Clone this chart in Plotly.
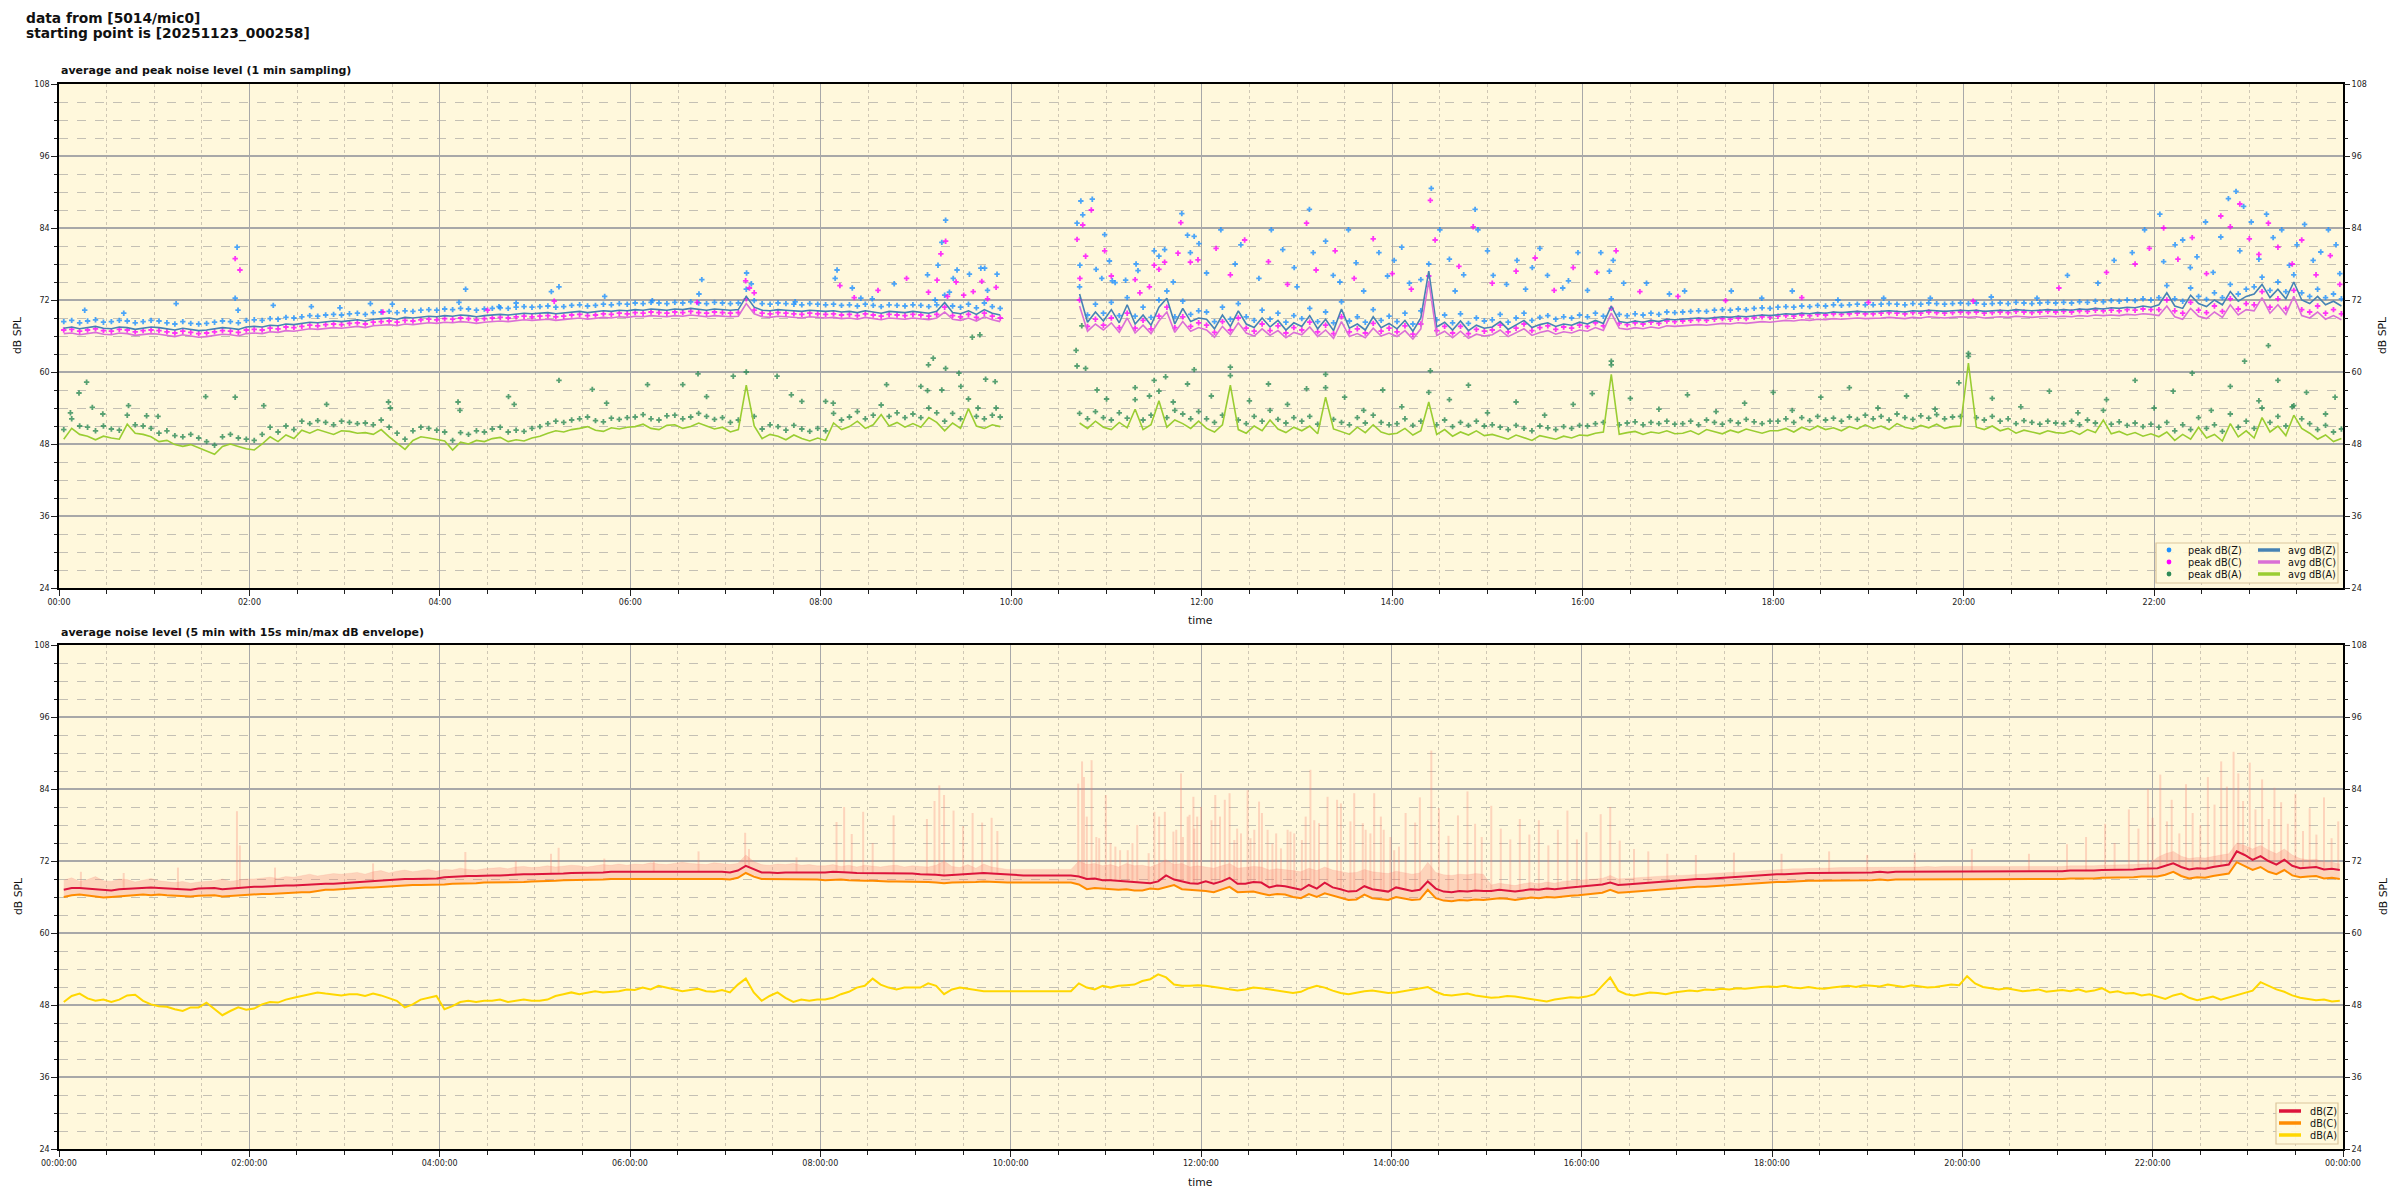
import pandas as pd
import numpy as np
import plotly.graph_objects as go

# ---------------- DATA ----------------
DAY = pd.Timestamp("2025-11-23 00:00:00")
SLOTS = pd.date_range("2025-11-23 00:03:00", periods=288, freq="5min")
N = None

# top chart: 1-min averages (read at 5 min steps), 12 values per hour
AVG_Z_H = [
    [67.3, 67.5, 67.2, 67.4, 67.6, 67.3, 67.2, 67.5, 67.4, 67.1, 67.3, 67.5],
    [67.4, 67.2, 67.0, 67.3, 67.1, 66.9, 67.0, 67.2, 67.4, 67.3, 67.1, 67.5],
    [67.6, 67.5, 67.8, 67.7, 68.0, 67.9, 68.1, 68.3, 68.2, 68.4, 68.5, 68.4],
    [68.6, 68.7, 68.5, 68.8, 68.9, 69.0, 68.8, 69.1, 69.0, 69.2, 69.3, 69.2],
    [69.4, 69.3, 69.5, 69.4, 69.2, 69.4, 69.5, 69.6, 69.5, 69.7, 69.8, 69.7],
    [69.8, 69.9, 69.7, 69.8, 70.0, 70.1, 69.9, 70.0, 70.2, 70.1, 70.3, 70.2],
    [70.4, 70.3, 70.5, 70.4, 70.3, 70.5, 70.4, 70.6, 70.4, 70.3, 70.5, 70.4],
    [70.3, 70.4, 72.6, 70.8, 70.3, 70.2, 70.4, 70.3, 70.2, 70.1, 70.3, 70.2],
    [70.1, 70.2, 70.0, 70.1, 69.9, 70.2, 70.0, 69.8, 70.1, 70.0, 69.9, 70.1],
    [70.0, 69.8, 70.1, 71.6, 69.9, 69.7, 70.2, 69.6, 70.4, 69.8, 69.5, N],
    [N, N, N, N, N, N, N, N, 73.0, 68.3, 70.0, 68.5],
    [70.4, 68.2, 71.2, 68.0, 69.5, 67.8, 70.8, 72.3, 68.0, 70.6, 68.4, 69.0],
    [68.8, 67.2, 69.5, 67.6, 70.2, 68.0, 67.4, 69.0, 67.5, 68.6, 67.0, 68.2],
    [67.6, 69.4, 67.2, 68.8, 66.9, 70.5, 67.3, 68.0, 67.0, 69.2, 67.4, 68.1],
    [67.2, 68.6, 66.8, 69.0, 76.8, 67.5, 68.3, 67.0, 68.5, 66.9, 67.8, 67.3],
    [67.5, 68.4, 67.1, 67.8, 68.6, 67.4, 67.9, 68.2, 67.6, 68.0, 67.8, 68.3],
    [68.0, 68.6, 68.1, 71.0, 68.4, 68.2, 68.5, 68.3, 68.6, 68.4, 68.8, 68.7],
    [68.8, 68.9, 69.0, 68.9, 69.1, 69.2, 69.1, 69.3, 69.2, 69.4, 69.5, 69.4],
    [69.6, 69.7, 69.6, 69.8, 69.7, 69.9, 69.8, 70.0, 69.9, 70.0, 70.1, 70.0],
    [70.0, 70.1, 70.2, 70.1, 70.0, 70.2, 70.1, 70.3, 70.2, 70.1, 70.2, 70.3],
    [70.2, 70.3, 70.1, 70.2, 70.3, 70.2, 70.4, 70.3, 70.2, 70.3, 70.4, 70.3],
    [70.4, 70.3, 70.5, 70.4, 70.6, 70.5, 70.7, 70.6, 70.8, 70.7, 71.0, 70.8],
    [71.2, 73.2, 71.0, 70.6, 72.8, 71.4, 70.9, 72.0, 71.2, 73.4, 71.8, 72.6],
    [73.0, 74.6, 72.4, 73.8, 72.2, 75.0, 72.0, 71.4, 72.6, 71.2, 71.8, 71.0],
]
AVG_C_H = [
    [66.4, 66.5, 66.2, 66.4, 66.6, 66.3, 66.2, 66.5, 66.4, 66.1, 66.3, 66.4],
    [66.3, 66.1, 65.9, 66.2, 66.0, 65.8, 65.9, 66.1, 66.3, 66.2, 66.0, 66.4],
    [66.5, 66.4, 66.7, 66.6, 66.9, 66.8, 67.0, 67.2, 67.1, 67.3, 67.4, 67.3],
    [67.5, 67.6, 67.4, 67.7, 67.8, 67.9, 67.7, 68.0, 67.9, 68.1, 68.2, 68.1],
    [68.3, 68.2, 68.4, 68.3, 68.1, 68.3, 68.4, 68.5, 68.4, 68.6, 68.7, 68.6],
    [68.7, 68.8, 68.6, 68.7, 68.9, 69.0, 68.8, 68.9, 69.1, 69.0, 69.2, 69.1],
    [69.3, 69.2, 69.4, 69.3, 69.2, 69.4, 69.3, 69.5, 69.3, 69.2, 69.4, 69.3],
    [69.2, 69.3, 71.4, 69.7, 69.2, 69.1, 69.3, 69.2, 69.1, 69.0, 69.2, 69.1],
    [69.0, 69.1, 68.9, 69.0, 68.8, 69.1, 68.9, 68.7, 69.0, 68.9, 68.8, 69.0],
    [68.9, 68.7, 69.0, 70.0, 68.8, 68.6, 69.0, 68.5, 69.2, 68.7, 68.4, N],
    [N, N, N, N, N, N, N, N, 71.0, 66.8, 68.0, 67.0],
    [68.2, 66.6, 69.0, 66.5, 67.8, 66.4, 68.5, 70.0, 66.6, 68.4, 66.8, 67.4],
    [67.0, 65.8, 67.6, 66.2, 68.2, 66.5, 66.0, 67.2, 66.1, 66.9, 65.7, 66.6],
    [66.2, 67.5, 65.9, 67.0, 65.6, 68.4, 65.9, 66.4, 65.7, 67.3, 66.0, 66.5],
    [65.9, 66.9, 65.5, 67.2, 75.2, 66.1, 66.8, 65.7, 66.8, 65.6, 66.3, 66.0],
    [66.2, 67.0, 65.9, 66.5, 67.2, 66.1, 66.6, 66.9, 66.3, 66.7, 66.5, 67.0],
    [66.8, 67.4, 66.9, 69.8, 67.3, 67.1, 67.4, 67.2, 67.5, 67.3, 67.7, 67.6],
    [67.7, 67.8, 67.9, 67.8, 68.0, 68.1, 68.0, 68.2, 68.1, 68.3, 68.4, 68.3],
    [68.5, 68.6, 68.5, 68.7, 68.6, 68.8, 68.7, 68.9, 68.8, 68.9, 69.0, 68.9],
    [68.9, 69.0, 69.1, 69.0, 68.9, 69.1, 69.0, 69.2, 69.1, 69.0, 69.1, 69.2],
    [69.1, 69.2, 69.0, 69.1, 69.2, 69.1, 69.3, 69.2, 69.1, 69.2, 69.3, 69.2],
    [69.3, 69.2, 69.4, 69.3, 69.5, 69.4, 69.5, 69.4, 69.6, 69.5, 69.7, 69.6],
    [69.4, 71.0, 69.2, 68.8, 70.6, 69.3, 68.9, 70.0, 69.1, 71.2, 69.5, 70.4],
    [70.2, 72.4, 69.8, 71.2, 69.6, 72.6, 69.4, 69.0, 70.0, 68.8, 69.4, 68.7],
]
AVG_A_H = [
    [48.8, 50.6, 49.6, 49.3, 48.7, 49.3, 49.0, 48.8, 51.3, 49.8, 49.6, 49.2],
    [48.4, 48.6, 47.9, 47.6, 47.9, 47.4, 46.9, 46.3, 47.6, 48.0, 47.6, 47.2],
    [47.0, 48.0, 49.2, 48.4, 49.5, 48.9, 50.3, 49.8, 50.4, 50.0, 49.6, 50.2],
    [50.1, 49.8, 49.9, 49.6, 50.4, 49.2, 48.2, 47.1, 48.6, 49.2, 49.0, 48.7],
    [48.5, 47.0, 48.3, 48.0, 48.6, 48.4, 48.9, 49.1, 48.4, 48.7, 48.5, 49.0],
    [49.3, 49.8, 50.2, 50.0, 50.4, 50.6, 50.9, 50.3, 50.1, 50.7, 50.5, 50.8],
    [50.9, 51.3, 50.6, 50.4, 51.1, 51.2, 50.6, 50.9, 51.5, 51.0, 50.5, 50.8],
    [50.0, 50.4, 57.8, 51.0, 48.9, 49.6, 49.3, 48.7, 49.5, 48.9, 48.5, 49.0],
    [48.6, 51.5, 50.4, 50.9, 51.8, 50.6, 51.2, 52.9, 51.0, 51.6, 50.8, 51.4],
    [50.8, 52.4, 51.6, 50.2, 51.5, 50.6, 53.9, 51.0, 50.6, 51.2, 50.9, N],
    [N, N, N, N, N, N, N, N, 51.5, 50.6, 51.8, 50.8],
    [50.4, 51.6, 50.7, 53.8, 50.4, 51.2, 55.2, 50.8, 52.0, 51.4, 50.6, 51.8],
    [50.6, 50.0, 51.2, 57.8, 50.4, 49.8, 51.0, 50.2, 52.0, 50.5, 49.9, 50.8],
    [50.2, 51.0, 49.7, 55.8, 50.5, 50.0, 49.6, 50.8, 49.9, 51.2, 50.0, 49.6],
    [49.8, 50.6, 49.5, 50.2, 55.0, 49.6, 50.4, 49.3, 50.0, 49.5, 50.2, 49.4],
    [49.6, 49.2, 48.8, 49.5, 49.0, 48.6, 49.4, 49.1, 48.8, 49.3, 49.0, 49.5],
    [49.4, 49.8, 50.0, 59.6, 49.6, 49.9, 50.1, 49.6, 50.0, 49.8, 50.2, 49.7],
    [49.8, 50.2, 49.6, 50.4, 50.0, 49.7, 50.3, 49.9, 50.5, 50.1, 49.8, 50.2],
    [50.2, 50.6, 50.0, 50.8, 50.3, 51.0, 50.4, 50.7, 50.2, 50.9, 50.5, 51.2],
    [50.6, 51.0, 50.4, 51.4, 50.8, 50.5, 51.1, 50.7, 51.3, 50.6, 50.9, 51.0],
    [61.5, 50.8, 50.4, 51.0, 50.2, 50.6, 49.8, 50.3, 50.0, 49.7, 50.2, 49.9],
    [49.8, 50.2, 49.6, 50.4, 49.9, 52.0, 49.7, 50.1, 49.5, 49.9, 49.3, 49.7],
    [49.2, 50.0, 48.6, 49.6, 48.8, 50.8, 49.0, 49.6, 48.5, 51.4, 49.2, 50.2],
    [49.0, 52.4, 50.0, 51.0, 49.4, 52.8, 50.6, 49.8, 48.8, 49.5, 48.4, 48.9],
]
PEAK_Z_H = [
    [68.4, 68.6, 68.2, 68.5, 68.7, 68.3, 68.4, 68.6, 68.5, 68.2, 68.4, 68.6],
    [68.5, 68.2, 68.0, 68.4, 68.1, 68.0, 68.1, 68.3, 68.5, 68.4, 68.2, 68.6],
    [68.7, 68.6, 68.9, 68.8, 69.1, 69.0, 69.2, 69.4, 69.3, 69.5, 69.6, 69.5],
    [69.7, 69.8, 69.6, 69.9, 70.0, 70.1, 69.9, 70.2, 70.1, 70.3, 70.4, 70.3],
    [70.5, 70.4, 70.6, 70.5, 70.3, 70.5, 70.6, 70.7, 70.6, 70.8, 70.9, 70.8],
    [70.9, 71.0, 70.8, 70.9, 71.1, 71.2, 71.0, 71.1, 71.3, 71.2, 71.4, 71.3],
    [71.5, 71.4, 71.6, 71.5, 71.4, 71.6, 71.5, 71.7, 71.5, 71.4, 71.6, 71.5],
    [71.4, 71.5, 73.8, 71.9, 71.4, 71.3, 71.5, 71.4, 71.3, 71.2, 71.4, 71.3],
    [71.2, 71.3, 71.1, 71.2, 71.0, 71.3, 71.1, 70.9, 71.2, 71.1, 71.0, 71.2],
    [71.1, 70.9, 71.2, 72.8, 71.0, 70.8, 71.3, 70.7, 71.5, 70.9, 70.6, N],
    [N, N, N, N, N, N, N, N, 74.2, 69.5, 71.3, 69.8],
    [71.6, 69.4, 72.4, 69.3, 70.8, 69.1, 72.0, 73.5, 69.2, 71.8, 69.6, 70.2],
    [70.0, 68.4, 70.8, 68.8, 71.4, 69.2, 68.6, 70.3, 68.8, 69.8, 68.3, 69.4],
    [68.9, 70.6, 68.4, 70.0, 68.2, 71.7, 68.5, 69.2, 68.3, 70.4, 68.6, 69.3],
    [68.4, 69.8, 68.0, 70.2, 78.0, 68.7, 69.5, 68.2, 69.7, 68.1, 69.0, 68.5],
    [68.7, 69.6, 68.3, 69.0, 69.8, 68.6, 69.1, 69.4, 68.8, 69.2, 69.0, 69.5],
    [69.2, 69.8, 69.3, 72.2, 69.6, 69.4, 69.7, 69.5, 69.8, 69.6, 70.0, 69.9],
    [70.0, 70.1, 70.2, 70.1, 70.3, 70.4, 70.3, 70.5, 70.4, 70.6, 70.7, 70.6],
    [70.8, 70.9, 70.8, 71.0, 70.9, 71.1, 71.0, 71.2, 71.1, 71.2, 71.3, 71.2],
    [71.2, 71.3, 71.4, 71.3, 71.2, 71.4, 71.3, 71.5, 71.4, 71.3, 71.4, 71.5],
    [71.4, 71.5, 71.3, 71.4, 71.5, 71.4, 71.6, 71.5, 71.4, 71.5, 71.6, 71.5],
    [71.6, 71.5, 71.7, 71.6, 71.8, 71.7, 71.9, 71.8, 72.0, 71.9, 72.2, 72.0],
    [72.4, 74.4, 72.2, 71.8, 74.0, 72.6, 72.1, 73.2, 72.4, 74.6, 73.0, 73.8],
    [74.2, 75.8, 73.6, 75.0, 73.4, 76.2, 73.2, 72.6, 73.8, 72.4, 73.0, 72.2],
]
PEAK_C_H = [
    [67.0, 67.1, 66.8, 67.0, 67.2, 66.9, 66.8, 67.1, 67.0, 66.7, 66.9, 67.0],
    [66.9, 66.7, 66.5, 66.8, 66.6, 66.4, 66.5, 66.7, 66.9, 66.8, 66.6, 67.0],
    [67.1, 67.0, 67.3, 67.2, 67.5, 67.4, 67.6, 67.8, 67.7, 67.9, 68.0, 67.9],
    [68.1, 68.2, 68.0, 68.3, 68.4, 68.5, 68.3, 68.6, 68.5, 68.7, 68.8, 68.7],
    [68.9, 68.8, 69.0, 68.9, 68.7, 68.9, 69.0, 69.1, 69.0, 69.2, 69.3, 69.2],
    [69.3, 69.4, 69.2, 69.3, 69.5, 69.6, 69.4, 69.5, 69.7, 69.6, 69.8, 69.7],
    [69.9, 69.8, 70.0, 69.9, 69.8, 70.0, 69.9, 70.1, 69.9, 69.8, 70.0, 69.9],
    [69.8, 69.9, 72.2, 70.3, 69.8, 69.7, 69.9, 69.8, 69.7, 69.6, 69.8, 69.7],
    [69.6, 69.7, 69.5, 69.6, 69.4, 69.7, 69.5, 69.3, 69.6, 69.5, 69.4, 69.6],
    [69.5, 69.3, 69.6, 70.8, 69.4, 69.2, 69.6, 69.1, 69.8, 69.3, 69.0, N],
    [N, N, N, N, N, N, N, N, 72.0, 67.6, 68.8, 67.8],
    [69.0, 67.4, 69.8, 67.3, 68.6, 67.2, 69.3, 70.8, 67.4, 69.2, 67.6, 68.2],
    [67.8, 66.6, 68.4, 67.0, 69.0, 67.3, 66.8, 68.0, 66.9, 67.7, 66.5, 67.4],
    [67.0, 68.3, 66.7, 67.8, 66.4, 69.2, 66.7, 67.2, 66.5, 68.1, 66.8, 67.3],
    [66.7, 67.7, 66.3, 68.0, 76.0, 66.9, 67.6, 66.5, 67.6, 66.4, 67.1, 66.8],
    [67.0, 67.8, 66.7, 67.3, 68.0, 66.9, 67.4, 67.7, 67.1, 67.5, 67.3, 67.8],
    [67.6, 68.2, 67.7, 70.6, 68.1, 67.9, 68.2, 68.0, 68.3, 68.1, 68.5, 68.4],
    [68.5, 68.6, 68.7, 68.6, 68.8, 68.9, 68.8, 69.0, 68.9, 69.1, 69.2, 69.1],
    [69.3, 69.4, 69.3, 69.5, 69.4, 69.6, 69.5, 69.7, 69.6, 69.7, 69.8, 69.7],
    [69.7, 69.8, 69.9, 69.8, 69.7, 69.9, 69.8, 70.0, 69.9, 69.8, 69.9, 70.0],
    [69.9, 70.0, 69.8, 69.9, 70.0, 69.9, 70.1, 70.0, 69.9, 70.0, 70.1, 70.0],
    [70.1, 70.0, 70.2, 70.1, 70.3, 70.2, 70.3, 70.2, 70.4, 70.3, 70.5, 70.4],
    [70.4, 72.0, 70.2, 69.8, 71.6, 70.3, 69.9, 71.0, 70.1, 72.2, 70.5, 71.4],
    [71.2, 73.4, 70.8, 72.2, 70.6, 73.6, 70.4, 70.0, 71.0, 69.8, 70.4, 69.7],
]
PEAK_A_H = [
    [50.4, 52.2, 51.0, 50.8, 50.2, 51.0, 50.5, 50.3, 52.8, 51.2, 51.0, 50.6],
    [49.8, 50.2, 49.4, 49.2, 49.6, 49.0, 48.4, 47.8, 49.2, 49.6, 49.0, 48.8],
    [48.6, 49.6, 50.8, 50.0, 51.0, 50.4, 51.8, 51.4, 51.9, 51.6, 51.2, 51.8],
    [51.6, 51.4, 51.5, 51.2, 52.0, 50.8, 49.8, 48.8, 50.2, 50.8, 50.6, 50.3],
    [50.0, 48.6, 49.9, 49.6, 50.2, 50.0, 50.5, 50.8, 50.0, 50.3, 50.1, 50.6],
    [50.9, 51.4, 51.8, 51.6, 52.0, 52.2, 52.5, 51.9, 51.7, 52.3, 52.1, 52.4],
    [52.5, 52.9, 52.2, 52.0, 52.7, 52.8, 52.2, 52.5, 53.1, 52.6, 52.1, 52.4],
    [51.6, 52.0, 60.0, 52.6, 50.5, 51.2, 50.9, 50.3, 51.1, 50.5, 50.1, 50.6],
    [50.2, 53.1, 52.0, 52.5, 53.4, 52.2, 52.8, 54.5, 52.6, 53.2, 52.4, 53.0],
    [52.4, 54.0, 53.2, 51.8, 53.1, 52.2, 55.5, 52.6, 52.2, 52.8, 52.5, N],
    [N, N, N, N, N, N, N, N, 53.1, 52.2, 53.4, 52.4],
    [52.0, 53.2, 52.3, 55.4, 52.0, 52.8, 56.8, 52.4, 53.6, 53.0, 52.2, 53.4],
    [52.2, 51.6, 52.8, 59.4, 52.0, 51.4, 52.6, 51.8, 53.6, 52.1, 51.5, 52.4],
    [51.8, 52.6, 51.3, 57.4, 52.1, 51.6, 51.2, 52.4, 51.5, 52.8, 51.6, 51.2],
    [51.4, 52.2, 51.1, 51.8, 56.6, 51.2, 52.0, 50.9, 51.6, 51.1, 51.8, 51.0],
    [51.2, 50.8, 50.4, 51.1, 50.6, 50.2, 51.0, 50.7, 50.4, 50.9, 50.6, 51.1],
    [51.0, 51.4, 51.6, 61.2, 51.2, 51.5, 51.7, 51.2, 51.6, 51.4, 51.8, 51.3],
    [51.4, 51.8, 51.2, 52.0, 51.6, 51.3, 51.9, 51.5, 52.1, 51.7, 51.4, 51.8],
    [51.8, 52.2, 51.6, 52.4, 51.9, 52.6, 52.0, 52.3, 51.8, 52.5, 52.1, 52.8],
    [52.2, 52.6, 52.0, 53.0, 52.4, 52.1, 52.7, 52.3, 52.9, 52.2, 52.5, 52.6],
    [63.1, 52.4, 52.0, 52.6, 51.8, 52.2, 51.4, 51.9, 51.6, 51.3, 51.8, 51.5],
    [51.4, 51.8, 51.2, 52.0, 51.5, 53.6, 51.3, 51.7, 51.1, 51.5, 50.9, 51.3],
    [50.8, 51.6, 50.2, 51.2, 50.4, 52.4, 50.6, 51.2, 50.1, 53.0, 50.8, 51.8],
    [50.6, 54.0, 51.6, 52.6, 51.0, 54.4, 52.2, 51.4, 50.4, 51.1, 50.0, 50.5],
]

# isolated peak readings (hour of day, dB)
PEAK_Z_OUT = [
    (0.27, 70.3), (0.68, 69.8), (1.23, 71.4), (1.85, 72.3), (1.87, 80.8), (1.88, 70.3), (2.25, 71.1),
    (2.65, 70.9), (2.95, 70.7), (3.27, 71.4), (3.5, 71.3), (4.2, 71.6), (4.27, 73.8), (4.62, 70.9),
    (4.8, 71.5), (5.17, 73.4), (5.25, 74.2), (5.73, 72.6), (6.23, 71.9), (6.72, 73.0), (6.75, 75.4),
    (7.22, 76.5), (7.27, 74.7), (7.73, 71.7), (8.15, 75.6), (8.17, 77.0), (8.33, 74.0), (8.42, 72.3),
    (8.54, 72.2), (8.77, 74.7), (9.12, 76.2), (9.2, 72.0), (9.23, 77.8), (9.27, 81.6), (9.31, 85.3),
    (9.35, 73.3), (9.39, 75.6), (9.43, 77.0), (9.56, 76.3), (9.68, 77.3), (9.72, 77.3), (9.75, 73.6),
    (9.85, 76.3), (10.69, 84.8), (10.72, 77.8), (10.73, 88.5), (10.75, 86.2), (10.85, 88.8),
    (10.89, 77.1), (10.95, 75.6), (10.98, 82.9), (11.03, 78.5), (11.06, 75.2), (11.09, 74.9),
    (11.2, 75.3), (11.31, 78.0), (11.33, 76.9), (11.5, 80.2), (11.55, 79.3), (11.61, 80.4),
    (11.7, 75.0), (11.79, 86.4), (11.85, 82.8), (11.88, 79.9), (11.92, 82.6), (11.97, 81.4),
    (12.05, 76.5), (12.2, 83.7), (12.35, 78.0), (12.41, 81.2), (12.6, 75.6), (12.73, 83.7),
    (12.85, 80.4), (12.97, 77.4), (13.0, 74.2), (13.13, 87.1), (13.17, 79.9), (13.3, 81.8),
    (13.38, 76.1), (13.45, 75.0), (13.54, 83.7), (13.62, 78.2), (13.7, 73.5), (13.86, 79.9),
    (13.95, 76.0), (14.02, 78.6), (14.1, 80.8), (14.18, 74.8), (14.3, 75.4), (14.41, 90.6),
    (14.5, 83.7), (14.6, 78.8), (14.66, 73.5), (14.75, 76.2), (14.87, 87.1), (14.9, 83.7),
    (15.0, 80.2), (15.06, 76.1), (15.2, 74.6), (15.31, 78.6), (15.4, 73.8), (15.47, 77.4),
    (15.55, 80.6), (15.63, 76.1), (15.79, 74.0), (15.85, 75.2), (15.95, 79.9), (16.05, 73.6),
    (16.19, 79.9), (16.28, 76.8), (16.32, 78.6), (16.43, 74.8), (16.67, 74.8), (16.91, 73.0),
    (17.07, 73.5), (17.56, 73.5), (17.88, 72.3), (18.2, 73.5), (18.68, 72.0), (19.16, 72.3),
    (19.65, 72.3), (20.29, 72.5), (20.77, 72.3), (21.09, 76.1), (21.41, 74.8), (21.58, 78.6),
    (21.77, 79.9), (21.9, 83.7), (22.06, 86.3), (22.1, 78.4), (22.22, 81.2), (22.3, 82.0),
    (22.38, 77.4), (22.45, 79.2), (22.54, 85.0), (22.62, 76.6), (22.7, 82.5), (22.78, 88.9),
    (22.86, 90.1), (22.9, 80.2), (22.94, 87.6), (23.02, 85.0), (23.1, 78.8), (23.18, 86.3),
    (23.25, 82.4), (23.34, 83.7), (23.42, 77.8), (23.5, 81.2), (23.58, 84.6), (23.67, 78.6),
    (23.75, 80.0), (23.83, 83.7), (23.91, 81.2), (23.95, 76.4),
]
PEAK_C_OUT = [
    (1.85, 78.9), (1.9, 77.0), (3.4, 70.0), (4.5, 70.3), (5.2, 71.8), (6.7, 71.6), (7.21, 75.2),
    (7.25, 74.0), (7.3, 73.2), (8.2, 74.4), (8.35, 72.4), (8.6, 73.6), (8.9, 75.6), (9.13, 73.3),
    (9.22, 75.3), (9.26, 79.7), (9.31, 81.8), (9.33, 72.6), (9.42, 75.0), (9.5, 72.8), (9.6, 73.4),
    (9.69, 75.1), (9.75, 72.2), (9.84, 74.1), (10.69, 82.1), (10.72, 75.6), (10.75, 84.5),
    (10.78, 79.3), (10.84, 87.0), (10.98, 80.2), (11.05, 76.0), (11.3, 75.4), (11.35, 73.2),
    (11.45, 74.2), (11.5, 77.8), (11.55, 77.1), (11.61, 78.3), (11.75, 79.8), (11.78, 84.9),
    (11.88, 78.3), (11.96, 78.7), (12.15, 80.6), (12.3, 76.2), (12.45, 82.0), (12.7, 78.4),
    (12.9, 74.6), (13.1, 84.8), (13.2, 77.0), (13.4, 80.2), (13.6, 75.6), (13.8, 82.2),
    (14.0, 76.4), (14.2, 73.8), (14.4, 88.6), (14.45, 82.0), (14.7, 77.6), (14.85, 84.2),
    (15.05, 74.8), (15.3, 76.8), (15.5, 79.0), (15.7, 73.6), (15.9, 77.4), (16.15, 76.6),
    (16.35, 80.2), (16.6, 73.4), (17.0, 72.6), (17.5, 71.9), (18.3, 72.4), (19.0, 71.6),
    (20.1, 71.8), (21.0, 74.0), (21.5, 76.6), (21.8, 78.0), (21.95, 80.6), (22.1, 84.0),
    (22.25, 78.8), (22.4, 82.4), (22.55, 76.4), (22.7, 86.0), (22.8, 84.2), (22.9, 88.0),
    (23.0, 82.2), (23.1, 79.6), (23.2, 84.8), (23.3, 80.8), (23.45, 78.0), (23.55, 82.0),
    (23.7, 76.2), (23.85, 79.4), (23.95, 74.6),
]
PEAK_A_OUT = [
    (0.12, 53.2), (0.21, 56.5), (0.29, 58.3), (0.35, 54.1), (0.46, 53.0), (0.73, 54.4), (0.92, 52.7),
    (1.04, 52.6), (1.54, 55.9), (1.85, 55.8), (2.15, 54.4), (2.81, 54.6), (3.46, 55.0), (3.48, 54.0),
    (4.19, 55.0), (4.21, 53.6), (4.72, 55.9), (4.78, 54.6), (5.25, 58.6), (5.6, 57.1), (5.75, 54.8),
    (6.18, 57.9), (6.55, 57.9), (6.71, 59.7), (6.8, 55.9), (7.08, 59.3), (7.54, 59.3), (7.69, 56.2),
    (7.8, 55.1), (8.05, 55.1), (8.13, 54.8), (8.69, 57.9), (9.05, 57.6), (9.12, 56.9), (9.13, 61.2),
    (9.18, 62.3), (9.27, 57.0), (9.31, 60.6), (9.45, 59.8), (9.47, 57.6), (9.59, 65.8), (9.67, 66.2),
    (9.73, 58.8), (9.83, 58.4), (9.65, 54.0), (9.84, 54.0), (10.68, 63.6), (10.69, 61.0),
    (10.74, 67.7), (10.78, 60.6), (10.9, 57.0), (11.0, 55.5), (11.3, 57.4), (11.45, 56.0),
    (11.5, 58.6), (11.62, 59.2), (11.7, 55.0), (11.85, 58.0), (11.92, 60.4), (12.1, 56.0),
    (12.3, 60.8), (12.5, 55.2), (12.7, 58.0), (12.9, 54.6), (13.1, 57.2), (13.3, 59.6), (13.5, 55.8),
    (13.7, 53.6), (13.9, 57.0), (14.1, 54.2), (14.4, 60.2), (14.6, 55.4), (14.8, 57.8), (15.0, 53.2),
    (15.3, 55.0), (15.6, 52.8), (15.9, 54.6), (16.1, 56.4), (16.3, 61.8), (16.5, 55.6), (16.8, 53.8),
    (17.1, 56.2), (17.4, 53.4), (17.7, 54.8), (18.0, 56.6), (18.2, 53.6), (18.5, 55.8), (18.8, 57.4),
    (19.1, 54.0), (19.4, 56.0), (19.7, 53.8), (19.95, 58.2), (20.05, 62.6), (20.3, 55.6),
    (20.6, 54.2), (20.9, 56.8), (21.2, 53.2), (21.5, 55.4), (21.8, 58.6), (22.0, 54.0), (22.2, 56.8),
    (22.4, 59.8), (22.6, 53.6), (22.8, 57.6), (22.95, 61.8), (23.1, 55.2), (23.2, 64.4), (23.3, 58.6),
    (23.45, 54.2), (23.6, 56.6), (23.8, 53.0), (23.9, 55.8),
]

# bottom chart: 5-min averages, 12 values per hour
BOT_Z_H = [
    [67.2, 67.5, 67.5, 67.4, 67.3, 67.2, 67.1, 67.3, 67.4, 67.5, 67.5, 67.6],
    [67.5, 67.4, 67.3, 67.2, 67.2, 67.4, 67.5, 67.5, 67.3, 67.4, 67.6, 67.6],
    [67.7, 67.7, 67.8, 67.8, 67.9, 67.9, 68.0, 68.1, 68.1, 68.2, 68.2, 68.3],
    [68.4, 68.5, 68.6, 68.7, 68.7, 68.8, 68.9, 69.0, 69.0, 69.0, 69.0, 69.1],
    [69.3, 69.4, 69.5, 69.5, 69.5, 69.6, 69.6, 69.6, 69.7, 69.7, 69.8, 69.8],
    [69.8, 69.8, 69.9, 69.9, 70.0, 70.0, 70.1, 70.1, 70.1, 70.2, 70.2, 70.2],
    [70.3, 70.3, 70.2, 70.2, 70.2, 70.3, 70.3, 70.3, 70.2, 70.2, 70.2, 70.2],
    [70.1, 70.4, 71.2, 70.6, 70.1, 70.1, 70.0, 70.1, 70.1, 70.0, 70.1, 70.1],
    [70.1, 70.2, 70.2, 70.1, 70.0, 70.0, 70.0, 69.9, 69.9, 69.9, 69.9, 69.9],
    [69.8, 69.8, 69.7, 69.6, 69.7, 69.7, 69.8, 69.9, 70.0, 69.9, 69.8, 69.7],
    [69.6, 69.6, 69.6, 69.6, 69.6, 69.6, 69.6, 69.6, 69.4, 69.0, 69.1, 68.8],
    [68.8, 68.7, 68.7, 68.6, 68.4, 68.3, 68.6, 69.6, 68.9, 68.6, 68.3, 68.2],
    [68.6, 68.2, 68.6, 69.2, 68.2, 68.2, 68.5, 68.4, 67.6, 67.9, 67.8, 67.5],
    [67.2, 68.0, 67.4, 68.4, 67.6, 67.3, 66.9, 67.0, 67.8, 67.3, 67.1, 66.9],
    [67.6, 67.3, 67.0, 67.2, 68.6, 67.4, 66.9, 66.8, 67.0, 66.9, 67.1, 67.0],
    [67.0, 67.2, 67.1, 66.9, 67.1, 67.3, 67.2, 67.4, 67.3, 67.5, 67.6, 67.7],
    [67.8, 67.9, 68.1, 68.4, 68.0, 68.1, 68.2, 68.3, 68.5, 68.6, 68.6, 68.7],
    [68.8, 68.9, 69.0, 69.0, 69.1, 69.2, 69.3, 69.3, 69.4, 69.5, 69.6, 69.7],
    [69.8, 69.8, 69.9, 69.9, 70.0, 70.0, 70.0, 70.1, 70.1, 70.1, 70.1, 70.1],
    [70.1, 70.2, 70.1, 70.2, 70.2, 70.2, 70.2, 70.3, 70.2, 70.3, 70.3, 70.3],
    [70.3, 70.3, 70.2, 70.3, 70.2, 70.2, 70.3, 70.2, 70.3, 70.3, 70.3, 70.3],
    [70.3, 70.4, 70.4, 70.3, 70.4, 70.5, 70.5, 70.5, 70.6, 70.6, 70.7, 70.7],
    [70.8, 71.2, 71.6, 71.0, 70.6, 70.8, 70.7, 71.0, 71.2, 71.4, 73.6, 73.0],
    [72.2, 72.8, 72.0, 71.4, 72.2, 71.2, 70.8, 70.9, 71.0, 70.6, 70.7, 70.5],
]
BOT_C_H = [
    [66.0, 66.3, 66.4, 66.2, 66.0, 65.9, 66.0, 66.1, 66.2, 66.3, 66.4, 66.3],
    [66.4, 66.3, 66.2, 66.2, 66.1, 66.2, 66.3, 66.3, 66.1, 66.2, 66.3, 66.3],
    [66.4, 66.5, 66.5, 66.6, 66.7, 66.7, 66.8, 66.8, 67.0, 67.2, 67.2, 67.3],
    [67.5, 67.5, 67.6, 67.6, 67.7, 67.8, 67.8, 67.9, 68.0, 68.0, 68.0, 68.1],
    [68.1, 68.2, 68.2, 68.3, 68.3, 68.4, 68.4, 68.4, 68.5, 68.5, 68.5, 68.6],
    [68.6, 68.7, 68.7, 68.8, 68.8, 68.8, 68.9, 68.9, 68.9, 69.0, 69.0, 69.0],
    [69.0, 69.1, 69.0, 69.1, 69.0, 69.1, 69.1, 69.0, 69.1, 69.0, 69.1, 69.0],
    [68.9, 69.2, 70.0, 69.4, 69.0, 69.0, 68.9, 69.0, 69.0, 68.9, 69.0, 68.9],
    [68.8, 68.9, 68.9, 68.8, 68.7, 68.7, 68.7, 68.6, 68.6, 68.6, 68.6, 68.6],
    [68.5, 68.5, 68.4, 68.3, 68.4, 68.4, 68.5, 68.5, 68.6, 68.5, 68.4, 68.4],
    [68.4, 68.4, 68.4, 68.4, 68.4, 68.4, 68.4, 68.4, 68.1, 67.3, 67.5, 67.4],
    [67.3, 67.2, 67.3, 67.1, 67.1, 67.4, 67.3, 67.6, 68.0, 67.3, 67.2, 67.2],
    [67.0, 66.8, 67.2, 67.7, 66.8, 66.8, 66.9, 66.6, 66.3, 66.5, 66.4, 66.0],
    [65.8, 66.5, 66.0, 66.6, 66.2, 65.9, 65.5, 65.6, 66.4, 65.8, 65.6, 65.5],
    [66.0, 65.7, 65.5, 65.6, 67.2, 65.8, 65.4, 65.3, 65.5, 65.4, 65.6, 65.5],
    [65.6, 65.8, 65.7, 65.5, 65.7, 65.9, 65.8, 66.0, 65.9, 66.1, 66.2, 66.3],
    [66.4, 66.5, 66.7, 67.2, 66.7, 66.8, 66.9, 67.0, 67.2, 67.3, 67.3, 67.4],
    [67.5, 67.6, 67.7, 67.7, 67.8, 67.9, 68.0, 68.0, 68.1, 68.2, 68.3, 68.4],
    [68.5, 68.5, 68.6, 68.6, 68.7, 68.7, 68.7, 68.8, 68.8, 68.8, 68.8, 68.8],
    [68.8, 68.9, 68.8, 68.9, 68.9, 68.9, 68.9, 69.0, 68.9, 69.0, 69.0, 69.0],
    [69.0, 69.0, 68.9, 69.0, 68.9, 68.9, 69.0, 68.9, 69.0, 69.0, 69.0, 69.0],
    [69.0, 69.1, 69.1, 69.0, 69.1, 69.2, 69.2, 69.2, 69.3, 69.3, 69.4, 69.4],
    [69.4, 69.7, 70.2, 69.5, 69.1, 69.3, 69.2, 69.5, 69.7, 69.9, 71.8, 71.2],
    [70.5, 71.0, 70.2, 69.8, 70.5, 69.6, 69.3, 69.4, 69.5, 69.1, 69.2, 69.0],
]
BOT_A_H = [
    [48.5, 49.5, 49.9, 49.1, 48.7, 48.9, 48.5, 48.9, 49.6, 49.7, 48.7, 48.1],
    [47.8, 47.7, 47.3, 47.0, 47.6, 47.6, 48.4, 47.3, 46.3, 47.0, 47.6, 47.2],
    [47.4, 48.1, 48.5, 48.4, 48.9, 49.2, 49.5, 49.8, 50.1, 49.9, 49.8, 49.6],
    [49.8, 49.8, 49.5, 49.9, 49.6, 49.2, 48.7, 47.6, 48.1, 48.9, 49.2, 49.5],
    [47.3, 47.8, 48.5, 48.7, 48.5, 48.7, 48.7, 48.9, 48.5, 48.7, 48.9, 48.7],
    [48.7, 48.9, 49.5, 49.8, 50.1, 49.8, 50.1, 50.3, 50.1, 50.2, 50.3, 50.6],
    [50.5, 50.9, 50.6, 51.2, 50.9, 50.5, 50.3, 50.5, 50.7, 50.3, 50.2, 50.5],
    [50.1, 51.4, 52.4, 50.1, 48.7, 49.5, 50.1, 49.2, 48.5, 48.9, 48.7, 48.9],
    [48.9, 49.2, 49.8, 50.2, 50.9, 51.2, 52.4, 51.4, 50.9, 50.6, 50.9, 50.9],
    [50.9, 51.6, 51.2, 49.8, 50.6, 50.9, 50.7, 50.5, 50.3, 50.3, 50.3, 50.3],
    [50.3, 50.3, 50.3, 50.3, 50.3, 50.3, 50.3, 50.3, 51.6, 50.9, 50.6, 51.2],
    [50.9, 51.2, 51.3, 51.4, 52.0, 52.3, 53.1, 52.6, 51.4, 51.2, 51.2, 51.3],
    [51.2, 51.0, 50.8, 50.6, 50.4, 50.6, 50.9, 50.8, 50.6, 50.3, 50.1, 50.0],
    [50.2, 50.8, 51.2, 50.9, 50.4, 50.0, 49.8, 50.1, 50.3, 50.4, 50.2, 50.0],
    [50.1, 50.3, 50.5, 50.8, 51.0, 50.2, 49.7, 49.6, 49.8, 49.9, 49.6, 49.4],
    [49.2, 49.3, 49.5, 49.4, 49.2, 49.0, 48.8, 48.6, 48.9, 49.1, 49.3, 49.2],
    [49.4, 49.8, 51.2, 52.6, 50.4, 49.8, 49.6, 49.9, 50.1, 50.0, 49.8, 50.1],
    [50.2, 50.4, 50.3, 50.6, 50.5, 50.7, 50.6, 50.8, 50.7, 50.9, 51.0, 51.1],
    [51.0, 51.2, 50.9, 50.8, 51.0, 50.8, 50.7, 50.9, 51.1, 51.2, 51.0, 51.3],
    [51.2, 51.1, 51.4, 51.2, 51.0, 51.3, 51.1, 50.9, 51.0, 51.2, 51.4, 51.3],
    [52.8, 51.6, 51.0, 50.8, 50.6, 50.8, 50.5, 50.3, 50.4, 50.6, 50.2, 50.4],
    [50.5, 50.3, 50.6, 50.2, 50.4, 50.8, 50.1, 50.3, 49.9, 50.0, 49.6, 49.8],
    [49.4, 49.0, 49.6, 49.9, 49.2, 48.8, 49.1, 49.4, 48.9, 49.3, 49.6, 50.0],
    [50.4, 51.8, 51.2, 50.6, 50.2, 49.6, 49.2, 49.0, 48.8, 48.9, 48.6, 48.7],
]
ENV_MAX_H = [
    [68.8, 69.2, 68.6, 68.9, 69.4, 68.7, 68.6, 69.0, 68.9, 68.5, 68.8, 69.1],
    [68.7, 68.5, 68.4, 68.6, 68.3, 68.5, 68.6, 68.7, 69.0, 68.6, 68.8, 69.0],
    [69.0, 69.2, 69.3, 69.1, 69.4, 69.3, 69.6, 69.8, 69.5, 69.7, 69.9, 69.8],
    [69.9, 70.1, 69.8, 70.2, 70.4, 70.0, 70.3, 70.5, 70.2, 70.4, 70.6, 70.3],
    [70.6, 70.5, 70.8, 70.6, 70.5, 70.7, 70.8, 70.9, 70.7, 71.0, 71.1, 70.9],
    [71.0, 71.2, 71.0, 71.1, 71.3, 71.2, 71.0, 71.2, 71.4, 71.3, 71.5, 71.3],
    [71.5, 71.4, 71.7, 71.5, 71.4, 71.6, 71.8, 71.6, 71.5, 71.4, 71.7, 71.5],
    [71.4, 71.6, 73.0, 71.9, 71.4, 71.3, 71.5, 71.4, 71.6, 71.3, 71.4, 71.2],
    [71.2, 71.4, 71.1, 71.3, 71.0, 71.3, 71.2, 71.0, 71.2, 71.3, 71.0, 71.2],
    [71.1, 71.0, 71.3, 72.0, 71.1, 70.9, 71.4, 70.8, 71.5, 71.0, 70.8, 70.6],
    [70.6, 70.6, 70.6, 70.6, 70.6, 70.6, 70.6, 70.6, 72.0, 71.4, 71.6, 71.2],
    [71.4, 71.0, 71.6, 71.2, 71.3, 71.0, 71.5, 72.2, 71.4, 71.6, 71.0, 71.2],
    [71.0, 70.8, 71.2, 71.6, 70.8, 70.9, 71.1, 71.0, 70.5, 70.7, 70.6, 70.4],
    [70.2, 70.8, 70.4, 71.0, 70.5, 70.2, 70.0, 70.1, 70.6, 70.2, 70.0, 69.9],
    [70.3, 70.0, 69.8, 70.0, 71.8, 70.1, 69.7, 69.6, 69.8, 69.7, 69.9, 69.8],
    [68.0, 68.3, 68.1, 67.9, 68.2, 68.4, 68.2, 68.5, 68.3, 68.6, 68.7, 68.8],
    [68.8, 68.9, 69.1, 69.6, 69.0, 69.1, 69.2, 69.3, 69.4, 69.5, 69.5, 69.6],
    [69.6, 69.7, 69.8, 69.8, 69.9, 70.0, 70.1, 70.1, 70.2, 70.3, 70.4, 70.5],
    [70.6, 70.6, 70.7, 70.7, 70.8, 70.8, 70.8, 70.9, 70.9, 70.9, 70.9, 70.9],
    [70.9, 71.0, 70.9, 71.0, 71.0, 71.0, 71.0, 71.1, 71.0, 71.1, 71.1, 71.1],
    [71.1, 71.1, 71.0, 71.1, 71.0, 71.0, 71.1, 71.0, 71.1, 71.1, 71.1, 71.1],
    [71.1, 71.2, 71.2, 71.1, 71.2, 71.3, 71.3, 71.3, 71.4, 71.4, 71.5, 71.5],
    [72.6, 73.2, 73.6, 72.8, 72.4, 72.6, 72.5, 72.8, 73.0, 73.2, 75.0, 74.6],
    [74.0, 74.6, 73.8, 73.2, 74.0, 73.0, 72.4, 72.2, 72.3, 71.8, 71.8, 71.5],
]
# 15 s max-dB bursts of the envelope (hour of day, dB)
ENV_SPIKES = [
    (0.23, 70.2), (0.68, 70.0), (1.25, 70.9), (1.87, 80.3), (1.9, 74.6), (2.27, 70.9), (3.3, 71.6),
    (4.27, 73.5), (4.8, 72.0), (5.17, 73.2), (5.25, 74.2), (5.73, 72.4), (6.25, 72.0), (6.72, 73.6),
    (7.21, 76.7), (7.25, 74.0), (7.75, 72.6), (8.17, 78.5), (8.25, 81.0), (8.33, 76.5), (8.45, 80.2),
    (8.55, 75.0), (8.77, 79.6), (9.12, 79.0), (9.2, 82.0), (9.25, 84.6), (9.3, 83.0), (9.4, 80.4),
    (9.5, 77.8), (9.6, 80.0), (9.7, 78.4), (9.8, 79.2), (9.86, 77.0), (10.71, 84.9), (10.75, 88.6),
    (10.77, 86.0), (10.8, 79.4), (10.85, 88.8), (10.9, 76.0), (10.93, 75.8), (11.0, 83.0),
    (11.05, 75.0), (11.1, 74.4), (11.15, 73.8), (11.23, 73.8), (11.28, 75.0), (11.33, 78.0),
    (11.45, 73.3), (11.51, 80.2), (11.56, 79.4), (11.62, 80.2), (11.71, 76.9), (11.74, 77.2),
    (11.79, 86.6), (11.81, 76.0), (11.86, 79.4), (11.88, 79.7), (11.92, 82.7), (11.93, 77.4),
    (11.96, 79.4), (12.0, 81.0), (12.11, 78.8), (12.15, 83.0), (12.2, 79.4), (12.25, 82.2),
    (12.3, 83.3), (12.35, 75.5), (12.38, 77.4), (12.42, 76.6), (12.49, 83.8), (12.52, 75.8),
    (12.56, 77.2), (12.61, 81.9), (12.64, 80.0), (12.7, 77.2), (12.75, 74.9), (12.79, 76.6),
    (12.84, 74.1), (12.91, 77.2), (12.94, 76.9), (12.98, 76.6), (13.06, 75.5), (13.1, 79.4),
    (13.15, 87.2), (13.19, 78.8), (13.24, 78.3), (13.33, 82.7), (13.43, 82.2), (13.47, 81.6),
    (13.57, 78.6), (13.61, 83.3), (13.7, 78.3), (13.73, 77.2), (13.78, 76.6), (13.82, 83.3),
    (13.89, 79.4), (13.92, 77.2), (13.99, 76.0), (14.03, 73.8), (14.08, 74.4), (14.15, 80.0),
    (14.25, 78.4), (14.3, 82.6), (14.42, 90.4), (14.5, 80.8), (14.6, 76.2), (14.7, 79.6),
    (14.8, 83.6), (14.88, 78.2), (14.95, 76.0), (15.05, 81.2), (15.15, 77.4), (15.25, 75.6),
    (15.35, 79.0), (15.45, 76.4), (15.55, 78.8), (15.65, 74.6), (15.75, 77.2), (15.85, 80.4),
    (15.95, 75.6), (16.05, 76.8), (16.2, 79.8), (16.3, 81.0), (16.4, 75.4), (16.55, 74.0),
    (16.7, 73.6), (16.9, 73.2), (17.2, 73.0), (17.6, 73.4), (18.1, 73.2), (18.6, 73.6),
    (19.0, 73.0), (19.5, 73.4), (20.1, 74.0), (20.7, 73.2), (21.1, 74.8), (21.3, 76.0),
    (21.5, 78.2), (21.6, 75.0), (21.75, 80.6), (21.85, 77.4), (21.95, 84.0), (22.0, 79.2),
    (22.08, 86.4), (22.15, 78.6), (22.2, 82.2), (22.28, 76.6), (22.35, 84.8), (22.42, 80.0),
    (22.5, 78.0), (22.58, 86.0), (22.65, 81.4), (22.72, 88.6), (22.78, 84.4), (22.85, 90.2),
    (22.9, 86.6), (22.95, 82.0), (23.02, 88.4), (23.08, 80.6), (23.15, 85.6), (23.22, 79.0),
    (23.28, 84.2), (23.35, 81.8), (23.42, 78.2), (23.5, 83.2), (23.58, 77.0), (23.65, 80.8),
    (23.72, 76.4), (23.8, 82.6), (23.88, 75.8), (23.95, 78.6),
]

Y_TICKS = [24, 36, 48, 60, 72, 84, 96, 108]


def flat(h):
    out = [v for row in h for v in row]
    assert len(out) == 288, len(out)
    return out


AVG_Z, AVG_C, AVG_A = flat(AVG_Z_H), flat(AVG_C_H), flat(AVG_A_H)
PEAK_Z, PEAK_C, PEAK_A = flat(PEAK_Z_H), flat(PEAK_C_H), flat(PEAK_A_H)
BOT_Z, BOT_C, BOT_A = flat(BOT_Z_H), flat(BOT_C_H), flat(BOT_A_H)
ENV_MAX = flat(ENV_MAX_H)


def at_hours(pairs):
    t = [DAY + pd.Timedelta(hours=h) for h, _ in pairs]
    v = [v for _, v in pairs]
    return t, v


# ---------------- FIGURE ----------------
# The page places the figure 8 px from the window corner, so the figure is
# 8 px smaller than the window and every page position is shifted by 8 px.
OFF = 8
W, H = 2400 - OFF, 1200 - OFF


def fx(x):
    return (x - OFF) / W


def fy(y):
    return 1 - (y - OFF) / H


X0, X1 = fx(59), fx(2343)
TOP_DOM = [fy(588), fy(84)]
BOT_DOM = [fy(1149), fy(645)]
FONT = "DejaVu Sans"
BG = "#fff8dc"

fig = go.Figure()

# --- top: peaks (markers) ---
for name, vals, outs, col in [
    ("peak dB(Z)", PEAK_Z, PEAK_Z_OUT, "#1e90ff"),
    ("peak dB(C)", PEAK_C, PEAK_C_OUT, "#ff00ff"),
    ("peak dB(A)", PEAK_A, PEAK_A_OUT, "#2e8b57"),
]:
    ot, ov = at_hours(outs)
    fig.add_trace(go.Scatter(
        x=list(SLOTS) + ot, y=list(vals) + ov, mode="markers", name=name,
        marker=dict(symbol="cross", size=4.5, color=col, opacity=0.8, line=dict(width=0)),
        xaxis="x", yaxis="y", showlegend=False))

# --- top: averages (lines) ---
for name, vals, col in [
    ("avg dB(Z)", AVG_Z, "#4682b4"),
    ("avg dB(C)", AVG_C, "#da70d6"),
    ("avg dB(A)", AVG_A, "#9acd32"),
]:
    fig.add_trace(go.Scatter(x=SLOTS, y=vals, mode="lines", name=name,
                             line=dict(color=col, width=1.6), xaxis="x", yaxis="y",
                             showlegend=False))

# --- bottom: envelope ---
ENV_COL = "rgba(250,128,114,0.30)"
fig.add_trace(go.Scatter(x=SLOTS, y=BOT_C, mode="lines", line=dict(width=0, color=ENV_COL),
                         xaxis="x2", yaxis="y2", showlegend=False, hoverinfo="skip"))
fig.add_trace(go.Scatter(x=SLOTS, y=ENV_MAX, mode="lines", line=dict(width=0.5, color=ENV_COL),
                         fill="tonexty", fillcolor=ENV_COL, xaxis="x2", yaxis="y2",
                         showlegend=False, hoverinfo="skip"))
st, sv = at_hours(ENV_SPIKES)
slot_ms = SLOTS.astype("int64").to_numpy()
base = np.interp(pd.DatetimeIndex(st).astype("int64").to_numpy(), slot_ms, np.array(BOT_Z))
sx, sy = [], []
for t, b, v in zip(st, base, sv):
    sx += [t, t, None]
    sy += [float(b), v, None]
fig.add_trace(go.Scatter(x=sx, y=sy, mode="lines", line=dict(width=2, color=ENV_COL),
                         xaxis="x2", yaxis="y2", showlegend=False, hoverinfo="skip"))

for name, vals, col in [
    ("dB(Z)", BOT_Z, "#dc143c"),
    ("dB(C)", BOT_C, "#ff8c00"),
    ("dB(A)", BOT_A, "#ffd700"),
]:
    fig.add_trace(go.Scatter(x=SLOTS, y=vals, mode="lines", name=name,
                             line=dict(color=col, width=2), xaxis="x2", yaxis="y2",
                             showlegend=False))

# dummy traces so the right-hand axes are drawn
fig.add_trace(go.Scatter(x=[None], y=[None], xaxis="x", yaxis="y3", showlegend=False))
fig.add_trace(go.Scatter(x=[None], y=[None], xaxis="x2", yaxis="y4", showlegend=False))

tickfont = dict(family=FONT, size=8, color="#222")


def xaxis(dom_anchor, fmt, end):
    return dict(
        type="date", domain=[X0, X1], anchor=dom_anchor, automargin=False,
        range=[DAY, end], tick0=DAY, dtick=7200000, tickformat=fmt,
        ticks="outside", ticklen=6, tickwidth=1, tickcolor="#222", tickfont=tickfont,
        showgrid=True, gridcolor="#a8a8a8", gridwidth=1.2,
        showline=True, linecolor="black", linewidth=1.5, mirror=True,
        minor=dict(dtick=1800000, tick0=DAY, ticks="outside", ticklen=4, tickcolor="#222",
                   showgrid=True, gridcolor="#cfc7b4", griddash="dot", gridwidth=1),
        zeroline=False,
    )


def yaxis(dom, anchor, side="left", overlay=None, grid=True):
    d = dict(
        range=[24, 108], tickvals=Y_TICKS, ticks="outside", ticklen=6, tickcolor="#222",
        tickfont=tickfont, side=side, anchor=anchor, zeroline=False, automargin=False,
        showgrid=grid, gridcolor="#a8a8a8", gridwidth=1.5,
        minor=dict(dtick=3, tick0=24, ticks="outside", ticklen=3.5, tickcolor="#222",
                   showgrid=grid, gridcolor="#c4c0b4", griddash="dash", gridwidth=1),
    )
    if overlay:
        d.update(overlaying=overlay, showline=False)
    else:
        d.update(domain=dom, showline=True, linecolor="black", linewidth=1.5, mirror=True)
    return d


fig.update_layout(
    width=W, height=H, margin=dict(l=0, r=0, t=0, b=0, pad=0, autoexpand=False),
    paper_bgcolor="white", plot_bgcolor=BG, showlegend=False,
    font=dict(family=FONT, color="#111"),
    xaxis=xaxis("y", "%H:%M", DAY + pd.Timedelta(hours=23, minutes=59)),
    xaxis2=xaxis("y2", "%H:%M:%S", DAY + pd.Timedelta(hours=24)),
    yaxis=yaxis(TOP_DOM, "x"),
    yaxis2=yaxis(BOT_DOM, "x2"),
    yaxis3=yaxis(TOP_DOM, "x", side="right", overlay="y", grid=False),
    yaxis4=yaxis(BOT_DOM, "x2", side="right", overlay="y2", grid=False),
)

ann = []


def px(x, y, text, size, bold=False, xanchor="left", angle=0, color="#111"):
    ann.append(dict(x=fx(x), y=fy(y), xref="paper", yref="paper", text=text,
                    showarrow=False, xanchor=xanchor, yanchor="middle", textangle=angle,
                    font=dict(family=FONT, size=size, color=color,
                              weight="bold" if bold else "normal")))


px(24, 18, "data from [5014/mic0]", 13.8, bold=True)
px(24, 34, "starting point is [20251123_000258]", 13.8, bold=True)
px(59, 70, "average and peak noise level (1 min sampling)", 11, bold=True)
px(59, 632, "average noise level (5 min with 15s min/max dB envelope)", 11, bold=True)
px(1200, 620, "time", 10.8, xanchor="center")
px(1200, 1182, "time", 10.8, xanchor="center")
for yc in (336, 897):
    px(18, yc, "dB SPL", 10.8, xanchor="center", angle=-90)
    px(2383, yc, "dB SPL", 10.8, xanchor="center", angle=-90)

shapes = []


def rect(x0, y0, x1, y1):
    shapes.append(dict(type="rect", xref="paper", yref="paper", x0=fx(x0), x1=fx(x1),
                       y0=fy(y1), y1=fy(y0), fillcolor="rgba(255,248,220,0.9)",
                       line=dict(color="#dcc69c", width=1.2)))


def lline(x0, x1, y, col):
    shapes.append(dict(type="line", xref="paper", yref="paper", x0=fx(x0), x1=fx(x1),
                       y0=fy(y), y1=fy(y), line=dict(color=col, width=3.5)))


def dot(x, y, col, r=2.4):
    shapes.append(dict(type="circle", xref="paper", yref="paper", x0=fx(x - r),
                       x1=fx(x + r), y0=fy(y + r), y1=fy(y - r),
                       fillcolor=col, line=dict(width=0)))


# top legend
rect(2156, 543, 2338, 583)
rows = [550, 562, 574]
for r, (lab, col) in zip(rows, [("peak dB(Z)", "#1e90ff"), ("peak dB(C)", "#ff00ff"),
                                ("peak dB(A)", "#2e8b57")]):
    dot(2169, r, col)
    px(2186, r, lab, 9.7)
for r, (lab, col) in zip(rows, [("avg dB(Z)", "#4682b4"), ("avg dB(C)", "#da70d6"),
                                ("avg dB(A)", "#9acd32")]):
    lline(2258, 2280, r, col)
    px(2286, r, lab, 9.7)

# bottom legend
rect(2276, 1103, 2338, 1144)
for r, (lab, col) in zip([1111, 1123, 1135], [("dB(Z)", "#dc143c"), ("dB(C)", "#ff8c00"),
                                              ("dB(A)", "#ffd700")]):
    lline(2279, 2301, r, col)
    px(2308, r, lab, 9.7)

fig.update_layout(annotations=ann, shapes=shapes)
fig.write_html("out.html")
